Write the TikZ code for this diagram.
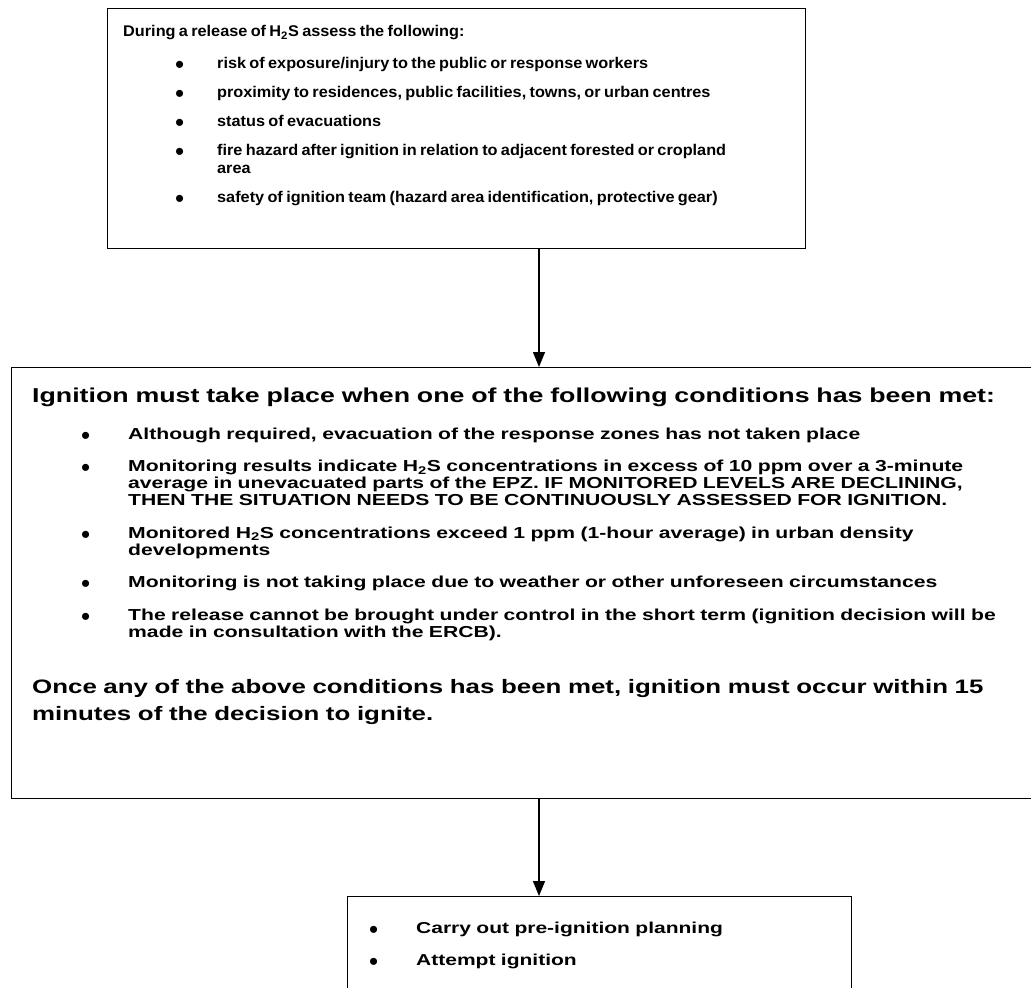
\documentclass[tikz,border=0pt]{standalone}
\usepackage{fontspec}
\setmainfont{Liberation Sans}
\newfontfamily\narrowsans[FakeStretch=1.05]{Liberation Sans}
\newfontfamily\widesans[FakeStretch=1.33]{Liberation Sans}
\usetikzlibrary{arrows.meta,positioning}

% bullet sitting in a box of width #1, shifted by \bulsh
\newlength{\bulsh}
\newcommand{\bdot}{\raisebox{-5pt}{\normalfont\fontsize{26}{0}\selectfont\textbullet}}
\newcommand{\bul}[2]{\par\hangindent=#1\hangafter=1\noindent
  \makebox[#1][l]{\hspace{\bulsh}\bdot}#2}
\newcommand{\widespc}{\spaceskip=.34em plus .1em\relax}

\tikzset{
  box/.style={draw,line width=1.4pt,anchor=north west,inner sep=0pt},
  txt/.style={anchor=north west,inner sep=0pt,align=left},
  arr/.style={line width=1.4pt,-{Triangle[width=12pt,length=15pt]}}
}

\begin{document}
\begin{tikzpicture}[x=1pt,y=-1pt]
  \useasboundingbox (0,0) rectangle (1031,988);

  % boxes
  \node[box,minimum width=698pt,minimum height=240pt] (assess) at (107,8) {};
  \node[box,minimum width=1040pt,minimum height=431pt] (ignite) at (11,367) {};
  \node[box,minimum width=504pt,minimum height=120pt] (attempt) at (347,896) {};

  % first box text
  \node[txt,text width=680pt,font=\narrowsans\bfseries] (assessTxt) at (123,25) {%
    \fontsize{15.5}{18.5}\selectfont\setlength{\parskip}{10.5pt}\setlength{\bulsh}{52pt}%
    During a release of H\textsubscript{2}S assess the following:\par
    \vspace{3pt}%
    \bul{94pt}{risk of exposure/injury to the public or response workers}
    \bul{94pt}{proximity to residences, public facilities, towns, or urban centres}
    \bul{94pt}{status of evacuations}
    \bul{94pt}{fire hazard after ignition in relation to adjacent forested or cropland\newline area}
    \bul{94pt}{safety of ignition team (hazard area identification, protective gear)}\par};

  % second box text
  \node[txt,text width=1000pt,font=\widesans\bfseries] (igniteTxt) at (32,388) {%
    \setlength{\bulsh}{49pt}%
    {\fontsize{20.1}{24}\selectfont\widespc Ignition must take place when one of the following conditions has been met:\par}
    \vspace{4pt}%
    {\fontsize{15.9}{17}\selectfont\widespc\setlength{\parskip}{15.5pt}%
    \bul{96pt}{Although required, evacuation of the response zones has not taken place}
    \bul{96pt}{Monitoring results indicate H\textsubscript{2}S concentrations in excess of 10 ppm over a 3-minute\newline
      average in unevacuated parts of the EPZ. IF MONITORED LEVELS ARE DECLINING,\newline
      THEN THE SITUATION NEEDS TO BE CONTINUOUSLY ASSESSED FOR IGNITION.}
    \bul{96pt}{Monitored H\textsubscript{2}S concentrations exceed 1 ppm (1-hour average) in urban density\newline developments}
    \bul{96pt}{Monitoring is not taking place due to weather or other unforeseen circumstances}
    \bul{96pt}{The release cannot be brought under control in the short term (ignition decision will be\newline
      made in consultation with the ERCB).}\par}
    \vspace{29pt}%
    {\fontsize{19.45}{27}\selectfont\widespc Once any of the above conditions has been met, ignition must occur within 15\newline
      minutes of the decision to ignite.\par}};

  % third box text
  \node[txt,text width=460pt,font=\widesans\bfseries] (attemptTxt) at (369,902) {%
    \fontsize{15.8}{18.5}\selectfont\widespc\setlength{\parskip}{13pt}\setlength{\bulsh}{0pt}%
    \bul{47pt}{Carry out pre-ignition planning}
    \bul{47pt}{Attempt ignition}\par};

  % connectors
  \coordinate (axis) at (539,0);
  \draw[arr] (axis |- assess.south) -- (axis |- ignite.north);
  \draw[arr] (axis |- ignite.south) -- (axis |- attempt.north);
\end{tikzpicture}
\end{document}
